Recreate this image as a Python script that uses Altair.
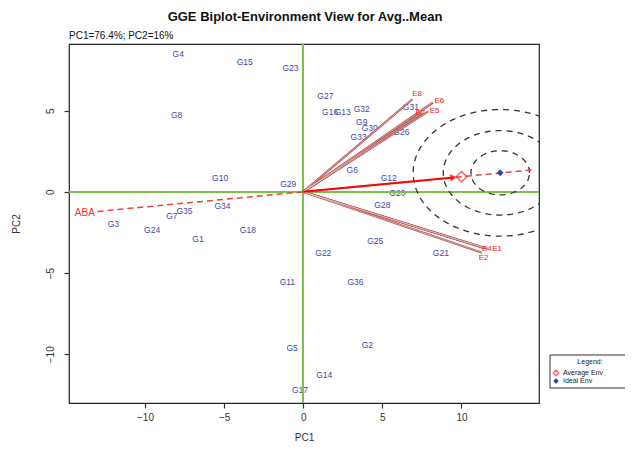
import altair as alt
import numpy as np
import pandas as pd

# ---------------- data ----------------
gen_names = ["G1","G2","G3","G4","G5","G6","G7","G8","G9","G10","G11","G12","G13","G14","G15","G16","G17","G18",
             "G20","G21","G22","G23","G24","G25","G26","G27","G28","G29","G30","G31","G32","G33","G34","G35","G36"]
gen_pc1 = [-6.65, 4.05, -12.0, -7.9, -0.7, 3.1, -8.3, -8.0, 3.7, -5.25, -1.0, 5.4, 2.5, 1.33, -3.7, 1.7, -0.2, -3.5,
           5.95, 8.7, 1.27, -0.8, -9.55, 4.55, 6.2, 1.4, 5.0, -0.95, 4.2, 6.8, 3.7, 3.5, -5.1, -7.5, 3.3]
gen_pc2 = [-2.9, -9.4, -2.0, 8.5, -9.6, 1.36, -1.5, 4.7, 4.3, 0.86, -5.55, 0.86, 4.9, -11.3, 8.0, 4.9, -12.2, -2.35,
           -0.1, -3.77, -3.77, 7.65, -2.35, -3.0, 3.7, 5.9, -0.8, 0.5, 3.95, 5.25, 5.1, 3.4, -0.86, -1.17, -5.55]

env_names = ["E8", "E6", "E5", "E7", "E4", "E1", "E2"]
env_pc1 = [6.9, 8.2, 7.9, 7.5, 11.4, 11.65, 11.3]
env_pc2 = [5.7, 5.5, 4.95, 4.85, -3.45, -3.5, -3.75]
env_lab_dx = [0.3, 0.4, 0.4, -0.1, 0.2, 0.6, 0.1]
env_lab_dy = [0.3, 0.1, 0.0, 0.0, -0.1, 0.0, -0.35]

avg_env = [10.0, 0.93]
ideal_env = [12.45, 1.17]
aba_line_x = [-13.0, 14.6]
aba_label = ["ABA"]
ring_rx = [1.85, 3.6, 5.5]
ring_ry = [1.36, 2.6, 3.9]

x_ticks = [-10, -5, 0, 5, 10]
y_ticks = [-10, -5, 0, 5]
x_domain = [-14.8, 14.9]
y_domain = [-13.0, 9.1]

title_text = "GGE Biplot-Environment View for Avg..Mean"
subtitle_text = "PC1=76.4%; PC2=16%"
legend_labels = ["Average Env", "Ideal Env"]

# ---------------- derived tables ----------------
W, H = 470, 359
gen_df = pd.DataFrame({"name": gen_names, "pc1": gen_pc1, "pc2": gen_pc2})
env_df = pd.DataFrame({"name": env_names, "pc1": env_pc1, "pc2": env_pc2,
                       "lx": np.array(env_pc1) + np.array(env_lab_dx),
                       "ly": np.array(env_pc2) + np.array(env_lab_dy),
                       "x0": 0.0, "y0": 0.0})
slope = avg_env[1] / avg_env[0]
aba_df = pd.DataFrame({"x": aba_line_x, "y": [v * slope for v in aba_line_x]})
aba_lab_df = pd.DataFrame({"name": aba_label, "x": [-13.8], "y": [-13.8 * slope - 0.05]})
px_x = W / (x_domain[1] - x_domain[0])
px_y = H / (y_domain[1] - y_domain[0])
tip = [avg_env[0] * 0.95, avg_env[1] * 0.95]
avg_arrow_df = pd.DataFrame({"x0": [0.0], "y0": [0.0], "x": [tip[0]], "y": [tip[1]],
                             "ang": [np.degrees(np.arctan2(-tip[1] * px_y, tip[0] * px_x))]})
avg_df = pd.DataFrame({"x": [avg_env[0]], "y": [avg_env[1]]})
ideal_df = pd.DataFrame({"x": [ideal_env[0]], "y": [ideal_env[1]]})

t = np.linspace(0, 2 * np.pi, 121)
rows = []
for k, (rx, ry) in enumerate(zip(ring_rx, ring_ry)):
    for i, tt in enumerate(t):
        rows.append({"ring": k, "i": i, "x": ideal_env[0] + rx * np.cos(tt), "y": ideal_env[1] + ry * np.sin(tt)})
ring_df = pd.DataFrame(rows)

# ---------------- scales ----------------
xs = alt.Scale(domain=x_domain, nice=False, zero=False)
ys = alt.Scale(domain=y_domain, nice=False, zero=False)
FONT = "Liberation Sans"

base_x = alt.X("pc1:Q", scale=xs, axis=alt.Axis(values=x_ticks, title="PC1", grid=False))
base_y = alt.Y("pc2:Q", scale=ys, axis=alt.Axis(values=y_ticks, title="PC2", grid=False))

genotypes = alt.Chart(gen_df).mark_text(font=FONT, fontSize=8.5, color="#4646A8").encode(
    x=base_x, y=base_y, text="name:N")

zero_v = alt.Chart(gen_df).mark_rule(color="#7DC24B", strokeWidth=1.3).encode(x=alt.datum(0, scale=xs))
zero_h = alt.Chart(gen_df).mark_rule(color="#7DC24B", strokeWidth=1.3).encode(y=alt.datum(0, scale=ys))

rings = alt.Chart(ring_df).mark_line(color="#333333", strokeDash=[6, 5], strokeWidth=1.3, clip=True).encode(
    x=alt.X("x:Q", scale=xs), y=alt.Y("y:Q", scale=ys), detail="ring:N", order="i:Q")

aba = alt.Chart(aba_df).mark_line(color="#F04040", strokeDash=[6, 4], strokeWidth=1.5).encode(
    x=alt.X("x:Q", scale=xs), y=alt.Y("y:Q", scale=ys))
aba_lab = alt.Chart(aba_lab_df).mark_text(font=FONT, fontSize=10, color="#F03030", align="center").encode(
    x=alt.X("x:Q", scale=xs), y=alt.Y("y:Q", scale=ys), text="name:N")

env_lines_outer = alt.Chart(env_df).mark_rule(color="#A83C3C", strokeWidth=2.2, opacity=0.9).encode(
    x=alt.X("x0:Q", scale=xs), y=alt.Y("y0:Q", scale=ys), x2="pc1:Q", y2="pc2:Q")
env_lines_inner = alt.Chart(env_df).mark_rule(color="#F3DADA", strokeWidth=0.6).encode(
    x=alt.X("x0:Q", scale=xs), y=alt.Y("y0:Q", scale=ys), x2="pc1:Q", y2="pc2:Q")
env_labels = alt.Chart(env_df).mark_text(font=FONT, fontSize=8, color="#F02020").encode(
    x=alt.X("lx:Q", scale=xs), y=alt.Y("ly:Q", scale=ys), text="name:N")

avg_line = alt.Chart(avg_arrow_df).mark_rule(color="#FF0000", strokeWidth=2).encode(
    x=alt.X("x0:Q", scale=xs), y=alt.Y("y0:Q", scale=ys), x2="x:Q", y2="y:Q")
avg_head = alt.Chart(avg_arrow_df).mark_point(shape="triangle-right", filled=True, color="#FF0000", size=60).encode(
    x=alt.X("x:Q", scale=xs), y=alt.Y("y:Q", scale=ys), angle=alt.Angle("ang:Q", scale=None))
avg_pt = alt.Chart(avg_df).mark_point(shape="diamond", filled=False, color="#FF2020", size=110, strokeWidth=1.5).encode(
    x=alt.X("x:Q", scale=xs), y=alt.Y("y:Q", scale=ys))
ideal_pt = alt.Chart(ideal_df).mark_point(shape="diamond", filled=True, color="#2E3FB0", size=45, opacity=1).encode(
    x=alt.X("x:Q", scale=xs), y=alt.Y("y:Q", scale=ys))

dummy = pd.DataFrame({"a": [0]})
title = alt.Chart(dummy).mark_text(font=FONT, fontSize=13, fontWeight="bold", color="#111111").encode(
    x=alt.value(236), y=alt.value(-27), text=alt.value(title_text))
subtitle = alt.Chart(dummy).mark_text(font=FONT, fontSize=10, color="#111111", align="left").encode(
    x=alt.value(0), y=alt.value(-8), text=alt.value(subtitle_text))

leg_box = alt.Chart(dummy).mark_rect(fill="white", stroke="#333333", strokeWidth=1).encode(
    x=alt.value(481), x2=alt.value(570), y=alt.value(311), y2=alt.value(344))
leg_title = alt.Chart(dummy).mark_text(font=FONT, fontSize=7, color="#222222").encode(
    x=alt.value(521), y=alt.value(318), text=alt.value("Legend:"))
leg_avg_sym = alt.Chart(dummy).mark_point(shape="diamond", filled=False, color="#FF2020", size=30, strokeWidth=1.3).encode(
    x=alt.value(487), y=alt.value(329))
leg_ideal_sym = alt.Chart(dummy).mark_point(shape="diamond", filled=True, color="#2E3FB0", size=30, opacity=1).encode(
    x=alt.value(487), y=alt.value(337))
leg_avg_txt = alt.Chart(dummy).mark_text(font=FONT, fontSize=7, color="#222222", align="left").encode(
    x=alt.value(494), y=alt.value(329), text=alt.value(legend_labels[0]))
leg_ideal_txt = alt.Chart(dummy).mark_text(font=FONT, fontSize=7, color="#222222", align="left").encode(
    x=alt.value(494), y=alt.value(337), text=alt.value(legend_labels[1]))

chart = alt.layer(
    genotypes, zero_v, zero_h, rings, aba, aba_lab,
    env_lines_outer, env_lines_inner, env_labels,
    avg_line, avg_head, avg_pt, ideal_pt,
    title, subtitle,
    leg_box, leg_title, leg_avg_sym, leg_ideal_sym, leg_avg_txt, leg_ideal_txt
).properties(
    width=W, height=H,
    autosize=alt.AutoSizeParams(type="none"),
    padding={"left": 61, "top": 36, "right": 86, "bottom": 39},
).configure_view(
    stroke="#222222", strokeWidth=1.2
).configure_axis(
    domain=False, tickColor="#333333", tickSize=5, tickWidth=1.2,
    labelFont=FONT, labelFontSize=10, labelColor="#333333",
    titleFont=FONT, titleFontSize=10, titleFontWeight="normal", titleColor="#333333",
).configure_axisX(
    labelPadding=4, titlePadding=10
).configure_axisY(
    labelAngle=-90, labelAlign="center", labelBaseline="bottom", labelPadding=9, titlePadding=24
)

chart.save("out.html", embed_options={"renderer": "svg", "actions": False})
